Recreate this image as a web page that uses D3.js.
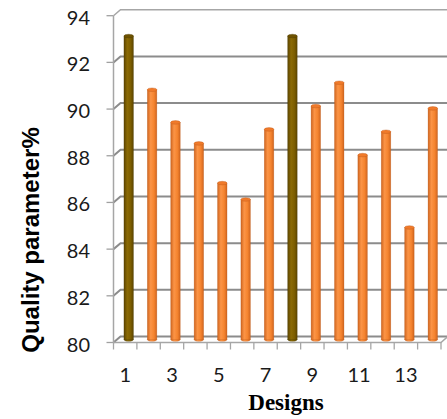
<!DOCTYPE html>
<html>
<head>
<meta charset="utf-8">
<script src="https://cdn.jsdelivr.net/npm/d3@7"></script>
<style>
  html, body { margin: 0; padding: 0; background: #fff; }
  svg { display: block; }
</style>
</head>
<body>
<svg id="chart" width="447" height="419"></svg>
<script>
// Quality parameter per design
const designs = ["1","2","3","4","5","6","7","8","9","10","11","12","13","14"];
const quality = [93.0, 90.7, 89.3, 88.4, 86.7, 86.0, 89.0, 93.0, 90.0, 91.0, 87.9, 88.9, 84.8, 89.9];
const highlighted = ["1", "8"];
const yTicks = [80, 82, 84, 86, 88, 90, 92, 94];
const xTickLabels = ["1","3","5","7","9","11","13"];

const svg = d3.select("#chart");

// front plane scales
const x = d3.scaleBand().domain(designs).range([113.5, 441]).paddingInner(0).paddingOuter(0);
const y = d3.scaleLinear().domain([80, 94]).range([342.5, 15.7]);

// depth offset of the back wall (oblique projection)
const depthX = 7, depthY = -6;
const wallRight = 449;

const defs = svg.append("defs");
function cylGrad(id, edge, mid, light) {
  const g = defs.append("linearGradient").attr("id", id)
    .attr("x1", "0%").attr("x2", "100%").attr("y1", "0%").attr("y2", "0%");
  g.append("stop").attr("offset", "0%").attr("stop-color", edge);
  g.append("stop").attr("offset", "35%").attr("stop-color", light);
  g.append("stop").attr("offset", "70%").attr("stop-color", mid);
  g.append("stop").attr("offset", "100%").attr("stop-color", edge);
}
cylGrad("gOrange", "#d0651f", "#f5842f", "#fb9446");
cylGrad("gOlive", "#5c4500", "#7d5e00", "#8b6a05");

const grid = svg.append("g");

// wall gridlines: side-wall diagonal + back-wall horizontal
yTicks.forEach(v => {
  const yf = y(v);
  grid.append("path")
    .attr("d", `M${x.range()[0]},${yf} L${x.range()[0] + depthX},${yf + depthY} L${wallRight},${yf + depthY}`)
    .attr("fill", "none")
    .attr("stroke", v === 94 ? "#a6a6a6" : "#8c8c8c")
    .attr("stroke-width", v === 94 ? 1.5 : 2);
  // axis tick
  grid.append("line")
    .attr("x1", x.range()[0] - 7).attr("x2", x.range()[0])
    .attr("y1", yf).attr("y2", yf)
    .attr("stroke", "#a0a0a0").attr("stroke-width", 1.3);
});

// vertical axis line
grid.append("line")
  .attr("x1", x.range()[0]).attr("x2", x.range()[0])
  .attr("y1", y(94)).attr("y2", y(80))
  .attr("stroke", "#a6a6a6").attr("stroke-width", 1.5);

// floor front edge and right side
grid.append("path")
  .attr("d", `M${x.range()[0]},${y(80)} L${x.range()[1]},${y(80)} L${x.range()[1] + depthX},${y(80) + depthY}`)
  .attr("fill", "none").attr("stroke", "#a6a6a6").attr("stroke-width", 1.5);

// category ticks on the floor edge
const bounds = designs.map(d => x(d)).concat([x.range()[1]]);
grid.selectAll(".xt").data(bounds).enter().append("line")
  .attr("x1", d => d).attr("x2", d => d)
  .attr("y1", y(80)).attr("y2", y(80) + 7)
  .attr("stroke", "#a6a6a6").attr("stroke-width", 1.3);

// bars (cylinders placed at mid depth)
const barW = 9.5;
const midDX = depthX / 2, midDY = depthY / 2;
const bars = svg.append("g");
designs.forEach((d, i) => {
  const cx = x(d) + x.bandwidth() / 2 + midDX;
  const yTop = y(quality[i]) + midDY;
  const yBot = y(80) + midDY;
  const hi = highlighted.includes(d);
  const fill = hi ? "url(#gOlive)" : "url(#gOrange)";
  const stroke = hi ? "#4a3800" : "#b9581a";
  const g = bars.append("g");
  g.append("ellipse")
    .attr("cx", cx).attr("cy", yBot).attr("rx", barW / 2).attr("ry", 1.8)
    .attr("fill", fill).attr("stroke", stroke).attr("stroke-opacity", 0.5).attr("stroke-width", 0.6);
  g.append("rect")
    .attr("x", cx - barW / 2).attr("y", yTop).attr("width", barW).attr("height", yBot - yTop)
    .attr("fill", fill).attr("stroke", stroke).attr("stroke-opacity", 0.45).attr("stroke-width", 0.6);
  g.append("ellipse")
    .attr("cx", cx).attr("cy", yTop).attr("rx", barW / 2).attr("ry", 1.8)
    .attr("fill", hi ? "#6e5200" : "#f07a2a")
    .attr("stroke", stroke).attr("stroke-opacity", 0.6).attr("stroke-width", 0.6);
});

// y tick labels
svg.append("g").selectAll("text").data(yTicks).enter().append("text")
  .attr("x", 90).attr("y", d => y(d) + 1)
  .attr("text-anchor", "end").attr("dominant-baseline", "central")
  .attr("font-family", "Lato, 'Open Sans', sans-serif").attr("font-size", 20)
  .attr("fill", "#1a1a1a")
  .text(d => d);

// x tick labels (odd designs)
svg.append("g").selectAll("text").data(xTickLabels).enter().append("text")
  .attr("x", d => x(d) + x.bandwidth() / 2)
  .attr("y", 381.5)
  .attr("text-anchor", "middle")
  .attr("font-family", "Lato, 'Open Sans', sans-serif").attr("font-size", 20)
  .attr("fill", "#1a1a1a")
  .text(d => d);

// axis titles
svg.append("text")
  .attr("transform", "translate(39,240) rotate(-90)")
  .attr("text-anchor", "middle")
  .attr("font-family", "'Liberation Sans', Arial, sans-serif").attr("font-weight", "bold")
  .attr("font-size", 24).attr("fill", "#000")
  .text("Quality parameter%");

svg.append("text")
  .attr("x", 286).attr("y", 410)
  .attr("text-anchor", "middle")
  .attr("font-family", "'Liberation Serif', 'Times New Roman', serif").attr("font-weight", "bold")
  .attr("font-size", 23).attr("fill", "#000")
  .text("Designs");
</script>
</body>
</html>
